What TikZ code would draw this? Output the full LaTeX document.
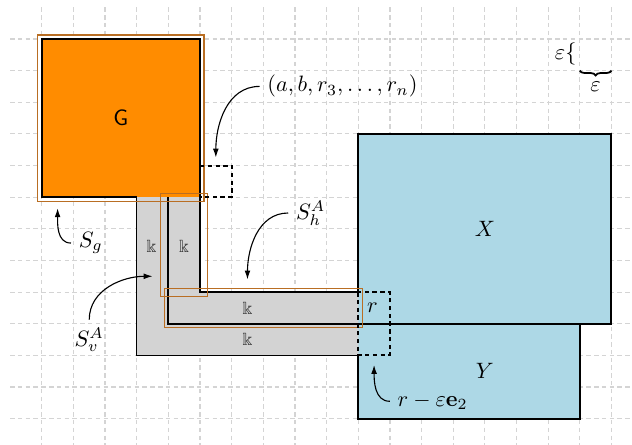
\documentclass[tikz,border=0pt]{standalone}
\usepackage{amssymb}
\usetikzlibrary{decorations.pathreplacing,arrows.meta}
\definecolor{orangeG}{RGB}{255,140,0}
\definecolor{rectbr}{RGB}{185,110,35}
\definecolor{lblue}{RGB}{173,216,230}
\definecolor{lgray}{RGB}{211,211,211}
\definecolor{gridc}{RGB}{212,212,212}
\begin{document}
\begin{tikzpicture}[x=0.5cm,y=0.5cm,
  gridline/.style={gridc, line width=0.55pt, dash pattern=on 2pt off 1.5pt},
  outline/.style={line width=0.9pt},
  thinout/.style={line width=0.5pt},
  selrect/.style={rectbr, line width=0.5pt},
  dashbox/.style={line width=0.9pt, dash pattern=on 2pt off 1.5pt},
  pointer/.style={-{Latex[length=4pt,width=2.6pt]}, line width=0.5pt},
  kk/.style={font=\footnotesize, text=black!80}]
\useasboundingbox (-1.32,-12.83) rectangle (18.65,1.23);
\begin{scope}
\clip (-1.32,-12.83) rectangle (18.65,1.23);
\foreach \i in {0,...,18} \draw[gridline] (\i,1) -- (\i,-13.5);
\foreach \j in {0,...,12} \draw[gridline] (-1,-\j) -- (19.5,-\j);
\end{scope}
% fills
\fill[lblue] (10,-9) rectangle (17,-12);
\fill[lblue] (10,-3) rectangle (18,-9);
\fill[lgray] (3,-5) -- (5,-5) -- (5,-8) -- (10,-8) -- (10,-10) -- (3,-10) -- cycle;
\fill[orangeG] (0,0) rectangle (5,-5);
% outlines
\draw[outline] (10,-8) -- (10,-3) -- (18,-3) -- (18,-9) -- (10,-9);
\draw[outline] (10,-10) -- (10,-12) -- (17,-12) -- (17,-9);
\draw[thinout] (3,-5) -- (3,-10) -- (10,-10);
\draw[outline] (3,-5) -- (0,-5) -- (0,0) -- (5,0) -- (5,-8) -- (10,-8);
\draw[outline] (4,-5) -- (4,-9) -- (10,-9);
% selection rectangles
\draw[selrect] (-0.125,0.125) rectangle (5.125,-5.125);
\draw[selrect] (3.75,-4.875) rectangle (5.25,-8.125);
\draw[selrect] (3.875,-7.875) rectangle (10.125,-9.125);
% dashed boxes
\draw[dashbox] (5,-4) -- (6,-4) -- (6,-5) -- (5,-5);
\draw[dashbox] (10,-8) rectangle (11,-10);
% labels
\node (G) at (2.5,-2.5) {\sffamily G};
\node (X) at (14,-6) {$X$};
\node (Y) at (14,-10.5) {$Y$};
\node[kk] (k1) at (3.47,-6.55) {$\Bbbk$};
\node[kk] (k2) at (4.5,-6.55) {$\Bbbk$};
\node[kk] (k3) at (6.5,-8.5) {$\Bbbk$};
\node[kk] (k4) at (6.5,-9.5) {$\Bbbk$};
\node (r) at (10.45,-8.5) {$r$};
% pointers
\node (tup) at (9.5,-1.5) {$(a,b,r_3,\ldots,r_n)$};
\coordinate (tupend) at (5.5,-3.75);
\draw[pointer] (tup.west) to[out=180,in=90] (tupend);
\node (Sh) at (8.5,-5.5) {$S_h^A$};
\coordinate (Shend) at (6.5,-7.6);
\draw[pointer] (Sh.west) to[out=180,in=90] (Shend);
\node (Sg) at (1.55,-6.45) {$S_g$};
\coordinate (Sgend) at (0.5,-5.35);
\draw[pointer] (Sg.west) to[out=180,in=-90] (Sgend);
\node (Sv) at (1.5,-9.5) {$S_v^A$};
\coordinate (Svend) at (3.5,-7.5);
\draw[pointer] (Sv.north) to[out=90,in=180] (Svend);
\node (rme) at (12.35,-11.45) {$r-\varepsilon\mathbf{e}_2$};
\coordinate (rmeend) at (10.5,-10.3);
\draw[pointer] (rme.west) to[out=180,in=-90] (rmeend);
% scale
\node[anchor=base east, inner sep=0pt] (epsl) at (16.91,-0.66) {$\varepsilon\{$};
\coordinate (ba) at (18,-1);
\coordinate (bb) at (17,-1);
\draw[decorate, decoration={brace, amplitude=2.2pt}, line width=0.8pt] (ba) -- (bb);
\node (epsb) at (17.5,-1.5) {$\varepsilon$};
\end{tikzpicture}
\end{document}
